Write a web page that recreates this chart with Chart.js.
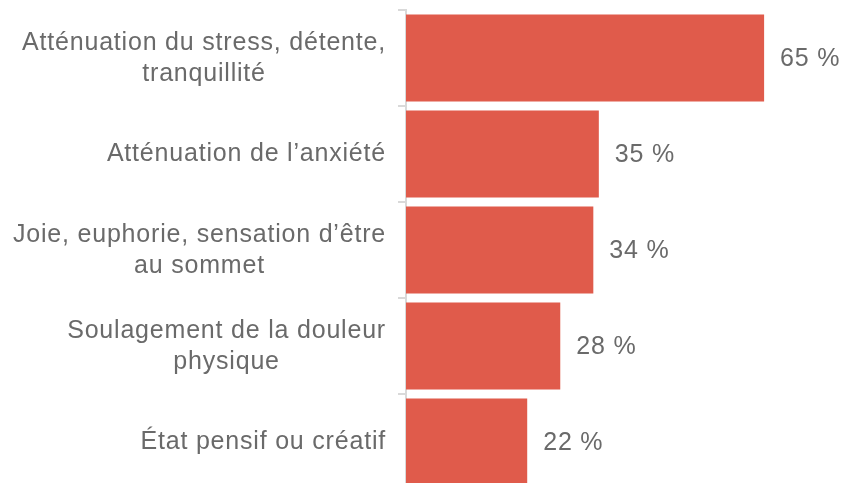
<!DOCTYPE html>
<html>
<head>
<meta charset="utf-8">
<script src="https://cdn.jsdelivr.net/npm/chart.js@4.4.1/dist/chart.umd.min.js"></script>
<style>
  html, body { margin: 0; padding: 0; background: #ffffff; overflow: hidden; }
  #wrap { width: 844px; height: 500px; }
</style>
</head>
<body>
<div id="wrap"><canvas id="c" width="844" height="500"></canvas></div>
<script>
const categories = [
  ["Atténuation du stress, détente,", "tranquillité"],
  ["Atténuation de l’anxiété"],
  ["Joie, euphorie, sensation d’être", "au sommet"],
  ["Soulagement de la douleur", "physique"],
  ["État pensif ou créatif"]
];
const values = [65, 35, 34, 28, 22];
const valueLabels = ["65 %", "35 %", "34 %", "28 %", "22 %"];

const TEXT_COLOR = '#6a6a6a';
const FONT = '25px "Liberation Sans", Arial, sans-serif';
const SPACING = '0.8px';

const labelPlugin = {
  id: 'customLabels',
  afterDatasetsDraw(chart) {
    const ctx = chart.ctx;
    const yScale = chart.scales.y;
    ctx.save();
    ctx.font = FONT;
    ctx.fillStyle = TEXT_COLOR;
    if ('letterSpacing' in ctx) ctx.letterSpacing = SPACING;
    ctx.textBaseline = 'middle';
    const rightEdge = 386;
    const lineH = 31;
    categories.forEach((lines, i) => {
      const cy = yScale.getPixelForValue(i) + 0.5;
      const maxW = Math.max(...lines.map(l => ctx.measureText(l).width));
      const cx = rightEdge - maxW / 2;
      ctx.textAlign = 'center';
      const top = cy - (lines.length - 1) * lineH / 2;
      lines.forEach((l, k) => ctx.fillText(l, cx, top + k * lineH));
    });
    const meta = chart.getDatasetMeta(0);
    ctx.textAlign = 'left';
    meta.data.forEach((bar, i) => {
      ctx.fillText(valueLabels[i], bar.x + 16, bar.y + 1);
    });
    ctx.restore();
  }
};

new Chart(document.getElementById('c'), {
  type: 'bar',
  data: {
    labels: categories,
    datasets: [{
      data: values,
      backgroundColor: '#E05B4B',
      borderWidth: 0,
      barPercentage: 0.906,
      categoryPercentage: 1.0
    }]
  },
  options: {
    indexAxis: 'y',
    responsive: false,
    animation: false,
    devicePixelRatio: 1,
    layout: { padding: { top: 10, bottom: 10, left: 0, right: 0 } },
    plugins: { legend: { display: false }, tooltip: { enabled: false } },
    scales: {
      x: {
        display: false,
        min: 0,
        max: 79.5
      },
      y: {
        type: 'category',
        offset: true,
        grid: {
          display: true,
          offset: true,
          drawOnChartArea: false,
          drawTicks: true,
          tickLength: 8,
          color: '#d9d9d9',
          lineWidth: 2
        },
        border: { display: true, color: '#d9d9d9', width: 2 },
        ticks: { display: false },
        afterFit(scale) { scale.width = 406; }
      }
    }
  },
  plugins: [labelPlugin]
});
</script>
</body>
</html>
